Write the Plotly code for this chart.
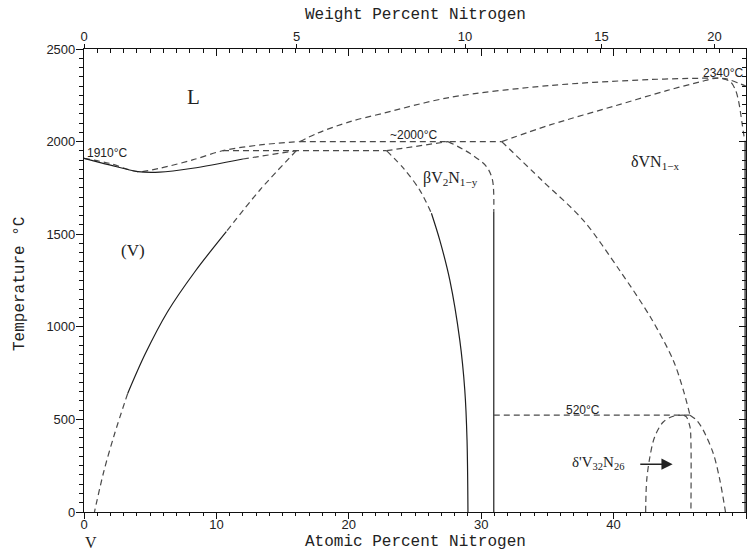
import plotly.graph_objects as go

# ---------------- data (atomic % N, temperature °C) ----------------
liq_v_x = [0, 1.9, 4.05, 5.7, 8.2, 10.5, 13.3, 16.3]
liq_v_t = [1910, 1883, 1838, 1856, 1901, 1951, 1982, 2000]

liq_d_x = [16.3, 17.65, 20.1, 22.6, 27.6, 35.2, 42.7, 46.5, 47.9, 48.6, 49.5, 50.0]
liq_d_t = [2000, 2046, 2108, 2153, 2238, 2303, 2335, 2342, 2343, 2337, 2314, 2300]

sol_v_solid_x = [0, 1.93, 4.07, 5.7, 8.2, 12.0]
sol_v_solid_t = [1910, 1874, 1838, 1835, 1856, 1906]
sol_v_dash_x = [12.0, 16.04]
sol_v_dash_t = [1906, 1951]

per1950_x = [10.5, 22.85]
per1950_t = [1951, 1951]
per2000_x = [16.3, 31.55]
per2000_t = [2000, 2000]

solvus_top_x = [16.04, 13.3, 10.75]
solvus_top_t = [1951, 1740, 1514]
solvus_mid_x = [10.75, 8.4, 6.3, 4.6, 3.3]
solvus_mid_t = [1514, 1300, 1080, 850, 640]
solvus_bot_x = [3.3, 2.3, 1.5, 0.79]
solvus_bot_t = [640, 420, 220, 0]

beta_l_dash_x = [22.85, 24.2, 25.36, 26.24]
beta_l_dash_t = [1951, 1850, 1738, 1613]
beta_l_solid_x = [26.24, 26.87, 27.63, 28.38, 28.76, 28.93, 29.0]
beta_l_solid_t = [1613, 1468, 1252, 929, 659, 389, 0]

beta_top_x = [22.85, 27.5]
beta_top_t = [1951, 2000]
beta_r_dash_x = [27.5, 29.14, 30.4, 30.85, 30.95]
beta_r_dash_t = [2000, 1937, 1865, 1793, 1622]
beta_r_solid_x = [30.95, 30.95]
beta_r_solid_t = [1622, 0]

dsol_x = [31.55, 35.2, 40.2, 44.0, 46.5, 47.9, 48.8, 49.2, 49.45, 49.7, 49.9]
dsol_t = [2000, 2090, 2195, 2275, 2322, 2343, 2324, 2280, 2215, 2100, 2005]

dedge_x = [50.0, 50.0]
dedge_t = [2005, 0]

dleft_x = [31.55, 34.6, 37.7, 40.5, 42.8, 44.5, 45.3, 45.77]
dleft_t = [2000, 1790, 1576, 1300, 1050, 820, 650, 523]

line520_x = [30.95, 45.77]
line520_t = [523, 523]

dome_l_x = [42.42, 42.5, 42.74, 43.1, 43.75, 44.5, 45.26]
dome_l_t = [0, 171, 297, 405, 486, 517, 523]
dome_r_x = [45.26, 45.5, 45.77, 45.84, 45.84]
dome_r_t = [523, 513, 459, 380, 0]

dright_x = [45.77, 46.27, 46.77, 47.53, 48.03, 48.41, 48.45]
dright_t = [523, 496, 442, 316, 171, 18, 0]

arrow_tail_x, arrow_tip_x, arrow_t = 41.9, 44.46, 258

x_ticks = [0, 10, 20, 30, 40, 50]
y_ticks = [0, 500, 1000, 1500, 2000, 2500]
wt_ticks = [0, 5, 10, 15, 20]


def wt_to_at(w):
    n = w / 14.0067
    v = (100 - w) / 50.9415
    return 100 * n / (n + v)


DASH = "6px,4px"
DCOL = "#4a4a4a"
SCOL = "#1e1e1e"

fig = go.Figure()


def add(x, y, dashed=True, spline=True, width=1.2, color=None):
    fig.add_trace(go.Scatter(
        x=x, y=y, mode="lines", showlegend=False, hoverinfo="skip",
        cliponaxis=False,
        line=dict(color=color or (DCOL if dashed else SCOL), width=width,
                  dash=DASH if dashed else "solid",
                  shape="spline" if spline and len(x) > 2 else "linear",
                  smoothing=0.9)))


add(liq_v_x, liq_v_t)
add(liq_d_x, liq_d_t)
add(sol_v_solid_x, sol_v_solid_t, dashed=False)
add(sol_v_dash_x, sol_v_dash_t)
add(per1950_x, per1950_t)
add(per2000_x, per2000_t)
add(solvus_top_x, solvus_top_t)
add(solvus_mid_x, solvus_mid_t, dashed=False)
add(solvus_bot_x, solvus_bot_t)
add(beta_l_dash_x, beta_l_dash_t)
add(beta_l_solid_x, beta_l_solid_t, dashed=False)
add(beta_top_x, beta_top_t)
add(beta_r_dash_x, beta_r_dash_t)
add(beta_r_solid_x, beta_r_solid_t, dashed=False)
add(dsol_x, dsol_t)
add(dedge_x, dedge_t, dashed=False, width=3.5, color="#666666")
add(dleft_x, dleft_t)
add(line520_x, line520_t)
add(dome_l_x, dome_l_t)
add(dome_r_x, dome_r_t)
add(dright_x, dright_t)

# dummy traces so overlay axes render
fig.add_trace(go.Scatter(x=[25], y=[1250], xaxis="x2", yaxis="y", mode="markers",
                         marker=dict(opacity=0), showlegend=False, hoverinfo="skip"))
fig.add_trace(go.Scatter(x=[25], y=[1250], xaxis="x3", yaxis="y", mode="markers",
                         marker=dict(opacity=0), showlegend=False, hoverinfo="skip"))
fig.add_trace(go.Scatter(x=[25], y=[1250], xaxis="x", yaxis="y2", mode="markers",
                         marker=dict(opacity=0), showlegend=False, hoverinfo="skip"))

TICKFONT = dict(family="Liberation Sans, Arial, sans-serif", size=13, color="#222")
AX = dict(showgrid=False, zeroline=False, showline=True, linecolor="#111",
          linewidth=1.2, tickcolor="#111", tickwidth=1)

fig.update_layout(
    width=748, height=553,
    margin=dict(l=84, r=2, t=49, b=41),
    paper_bgcolor="white", plot_bgcolor="white",
    xaxis=dict(range=[0, 50], tickvals=x_ticks, ticks="outside", ticklen=6,
               tickfont=TICKFONT, ticklabelstandoff=-6,
               minor=dict(dtick=1, tick0=0, ticks="outside", ticklen=3,
                          tickcolor="#111"), **AX),
    yaxis=dict(range=[0, 2500], tickvals=y_ticks, ticks="outside", ticklen=7,
               tickfont=TICKFONT, ticklabelstandoff=-2,
               minor=dict(dtick=50, tick0=0, ticks="outside", ticklen=4,
                          tickcolor="#111"), **AX),
    xaxis2=dict(range=[0, 50], overlaying="x", side="top", tickvals=x_ticks,
                ticks="inside", ticklen=7, showticklabels=False,
                minor=dict(dtick=1, tick0=0, ticks="inside", ticklen=4,
                           tickcolor="#111"), **AX),
    xaxis3=dict(range=[0, 50], overlaying="x", side="top",
                tickvals=[wt_to_at(w) for w in wt_ticks],
                ticktext=[str(w) for w in wt_ticks],
                ticks="outside", ticklen=4, tickfont=TICKFONT,
                ticklabelstandoff=-2,
                showgrid=False, zeroline=False, showline=False,
                tickcolor="#111"),
    yaxis2=dict(range=[0, 2500], overlaying="y", side="right", tickvals=y_ticks,
                ticks="inside", ticklen=7, showticklabels=False,
                minor=dict(dtick=50, tick0=0, ticks="inside", ticklen=4,
                           tickcolor="#111"), **AX),
)

SERIF = "Liberation Serif, DejaVu Serif, serif"
MONO = "Liberation Mono, Courier New, monospace"
SANS = "Liberation Sans, Arial, sans-serif"


def label(x, y, text, size=13, family=SERIF, xanchor="center", yanchor="middle"):
    fig.add_annotation(x=x, y=y, xref="x", yref="y", text=text, showarrow=False,
                       xanchor=xanchor, yanchor=yanchor,
                       font=dict(family=family, size=size, color="#222"))


label(8.3, 2242, "L", size=21)
label(3.7, 1410, "(V)", size=17)
label(27.7, 1800, "βV<sub>2</sub>N<sub>1−y</sub>", size=16)
label(43.2, 1885, "δVN<sub>1−x</sub>", size=16)
label(0.1, 1940, "1910°C", size=12, family=SANS, xanchor="left")
label(24.9, 2036, "~2000°C", size=12, family=SANS)
label(49.95, 2372, "2340°C", size=12, family=SANS, xanchor="right")
label(37.7, 552, "520°C", size=12, family=SANS)
label(40.9, 262, "δ'V<sub>32</sub>N<sub>26</sub>", size=15, xanchor="right")

fig.add_annotation(x=arrow_tip_x, y=arrow_t, ax=arrow_tail_x, ay=arrow_t,
                   xref="x", yref="y", axref="x", ayref="y", text="",
                   showarrow=True, arrowhead=2, arrowsize=1.6, arrowwidth=1.4,
                   arrowcolor="#222")


def title(px, py, text, size, family=MONO, angle=0):
    fig.add_annotation(x=(px - 84) / 662, y=(512 - py) / 463, xref="paper",
                       yref="paper", text=text, showarrow=False, textangle=angle,
                       xanchor="center", yanchor="middle",
                       font=dict(family=family, size=size, color="#222"))


title(415, 542, "Atomic Percent Nitrogen", 16)
title(415, 15, "Weight Percent Nitrogen", 16)
title(20, 284, "Temperature °C", 16, angle=-90)
title(91, 542, "V", 16, family=SERIF)

fig.write_html("out.html")
